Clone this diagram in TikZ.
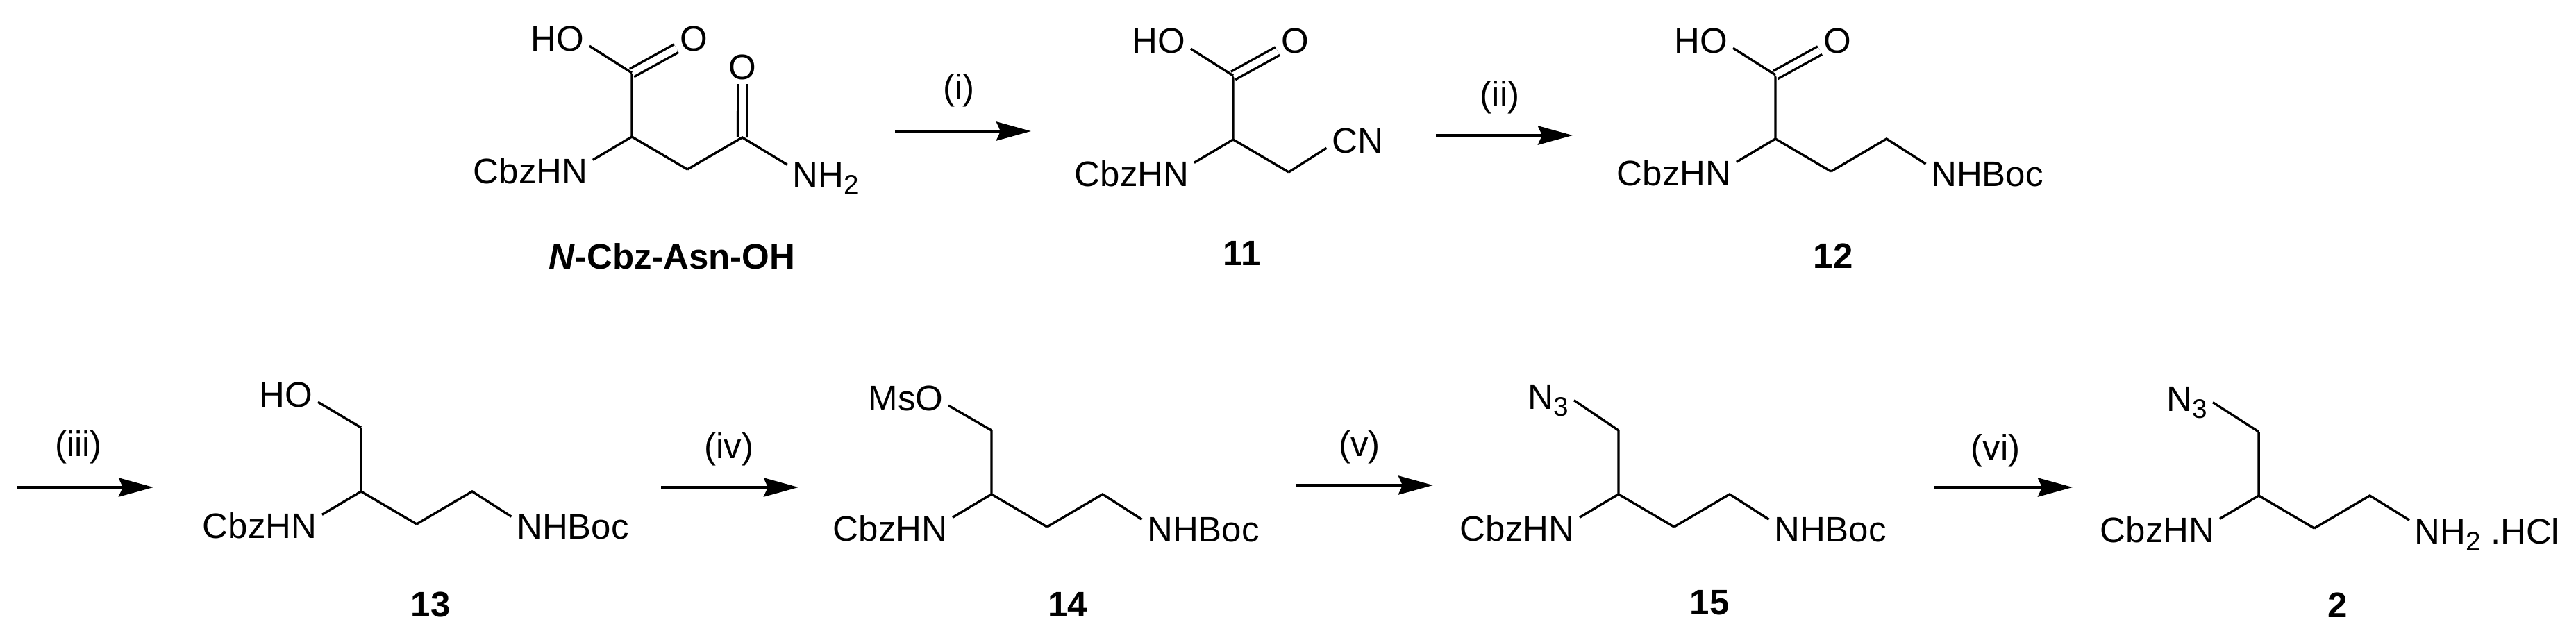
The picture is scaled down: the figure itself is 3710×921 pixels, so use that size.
\documentclass[tikz,border=0pt]{standalone}
\usepackage{fontspec}
\setmainfont{Liberation Sans}
\usetikzlibrary{arrows.meta}
\newcommand{\chemsub}[1]{\raisebox{-1mm}{\fontsize{11}{12}\selectfont #1}}
\tikzset{
    chemtext/.style={font=\fontsize{14.5}{17}\selectfont, anchor=base},
    atom/.style={chemtext, inner xsep=.7mm, inner ysep=-.4mm},
    loweratom/.style={chemtext, inner xsep=.7mm, inner ysep=-.8mm},
    oxy/.style={chemtext, inner xsep=.5mm, inner ysep=.6mm},
    cmpd/.style={chemtext, font=\fontsize{14.5}{17}\selectfont\bfseries},
    bond/.style={line width=.34mm},
    dbond/.style={line width=.34mm, double, double distance=.96mm},
    rxn/.style={line width=.45mm}
}
\begin{document}
\begin{tikzpicture}[>={Stealth[length=5mm,width=2.7mm,inset=.6mm]}, x=.01cm, y=-.01cm]
    \useasboundingbox (0,0) rectangle (3710,921);
% reaction arrows
\foreach \m/\xs/\xe/\y/\xl/\yl/\t in {1/1289/1485/189/1381/143/(i), 2/2068/2265/195/2160/153/(ii),
    3/24/221/702/113/657/(iii), 4/952/1150/702/1050/660/(iv),
    5/1866/2064/699/1958/657/(v), 6/2786/2985/702/2874/662/(vi)}
{
    \coordinate (rs\m) at (\xs,\y);
    \coordinate (re\m) at (\xe,\y);
    \draw[->, rxn] (rs\m)--(re\m);
    \node[chemtext] (cond\m) at (\xl,\yl) {\t};
}
% common chain
\foreach \m/\x/\y in {a/910/197, b/1776/201, c/2557/200, d/520/708, e/1428/712, f/2331/712, g/3253/714}
{
    \coordinate (ca\m) at (\x,\y);
    \coordinate (cb\m) at (\x,\y-92);
    \coordinate (cc\m) at (\x+80,\y+47);
    \node[atom] (cbz\m) at (\x-146,\y+67) {CbzHN};
    \draw[bond] (cb\m)--(ca\m)--(cc\m);
    \draw[bond] (ca\m)--(cbz\m.north east);
}
% acid ends
\foreach \m in {a,b,c}
{
    \node[loweratom] (ho\m) at ([shift={(-107,-32)}]cb\m) {HO};
    \node[oxy] (ox\m) at ([shift={(89.5,-32)}]cb\m) {O};
    \draw[dbond] (cb\m)--(ox\m);
    \draw[bond] (cb\m)--(ho\m.south east);
}
% NHBoc ends
\foreach \m in {c,d,e,f}
{
    \coordinate (cd\m) at ([shift={(80,-47)}]cc\m);
    \node[atom] (nb\m) at ([shift={(305,68)}]ca\m) {NHBoc};
    \draw[bond] (cc\m)--(cd\m)--(nb\m.north west);
}
% amide of the first one
\coordinate (cda) at (1069,198);
\node[oxy] (oxam) at (1069.5,114) {O};
\node[atom] (nha) at (1189,269) {NH\chemsub{2}};
\draw[dbond] (cda)--(oxam);
\draw[bond] (cca)--(cda)--(nha.north west);
% nitrile
\node[loweratom] (cnb) at (1955,220) {CN};
\draw[bond] (ccb)--(cnb.south west);
% upper ends of the lower row
\node[loweratom] (hod) at (412,586) {HO};
\draw[bond] (cbd)--(hod.south east);
\node[loweratom] (mse) at (1304.5,591) {MsO};
\draw[bond] (cbe)--(mse.south east);
\foreach \m/\x/\y in {f/2230/589, g/3150/592}
{
    \node[atom] (nt\m) at (\x,\y) {N\chemsub{3}};
    \draw[bond] (cb\m)--(nt\m.east);
}
% last one
\coordinate (cdg) at (3413,714);
\node[atom] (nhg) at (3582,783) {NH\chemsub{2} .HCl};
\draw[bond] (ccg)--(cdg)--(nhg.north west);
% compound numbers
\foreach \m/\x/\y/\t in {a/968/387/{\textit{N}-Cbz-Asn-OH}, b/1788.5/382/11, c/2640/386/12,
    d/620/888/13, e/1537.5/888/14, f/2462/885/15, g/3367/889/2}
{
    \node[cmpd] (lab\m) at (\x,\y) {\t};
}
\end{tikzpicture}
\end{document}
